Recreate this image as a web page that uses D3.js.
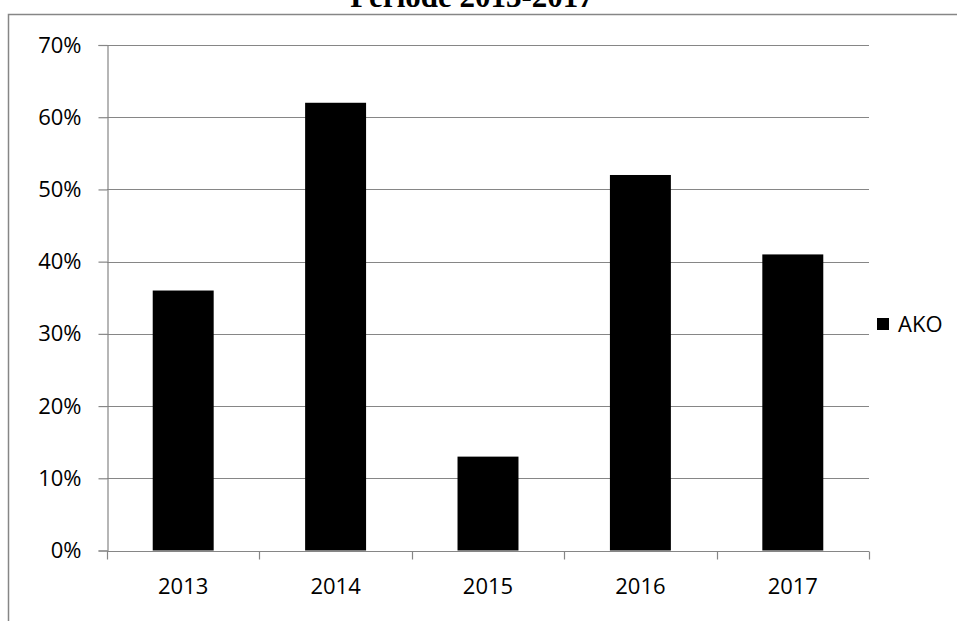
<!DOCTYPE html>
<html>
<head>
<meta charset="utf-8">
<script src="https://cdn.jsdelivr.net/npm/d3@7"></script>
<style>
  html, body { margin: 0; padding: 0; background: #fff; }
  svg { display: block; }
</style>
</head>
<body>
<svg id="chart" width="957" height="621"></svg>
<script>
// Annual AKO ratio, 2013-2017
const years = ["2013", "2014", "2015", "2016", "2017"];
const akoValues = [0.36, 0.62, 0.13, 0.52, 0.41];
const yTicks = [0, 0.1, 0.2, 0.3, 0.4, 0.5, 0.6, 0.7];
const seriesName = "AKO";
const titleText = "Periode 2013-2017";

const svg = d3.select("#chart");
const W = 957, H = 621;
const plot = { left: 107, right: 869, top: 45, bottom: 550.5 };
const grey = "#868686";
const font = "'Open Sans', 'Noto Sans', sans-serif";
const labelSize = 22;

// outer chart frame (top and left edges in view)
svg.append("path")
  .attr("d", `M8.5,${H} V14.5 H${W}`)
  .attr("fill", "none")
  .attr("stroke", grey)
  .attr("stroke-width", 1.5);

// title, sitting above the frame's top edge
svg.append("text")
  .attr("x", 472)
  .attr("y", 7)
  .attr("text-anchor", "middle")
  .attr("font-family", "'Liberation Serif', 'Times New Roman', serif")
  .attr("font-weight", "bold")
  .attr("font-size", 31)
  .text(titleText);

const x = d3.scaleBand()
  .domain(years)
  .range([plot.left, plot.right])
  .paddingInner(0.6)
  .paddingOuter(0.3);

const y = d3.scaleLinear()
  .domain([0, 0.7])
  .range([plot.bottom, plot.top]);

// horizontal gridlines
svg.append("g")
  .selectAll("line")
  .data(yTicks.filter(d => d > 0))
  .join("line")
  .attr("x1", plot.left)
  .attr("x2", plot.right)
  .attr("y1", d => Math.round(y(d)) + 0.5)
  .attr("y2", d => Math.round(y(d)) + 0.5)
  .attr("stroke", grey)
  .attr("stroke-width", 1.2);

// y axis
const yAxis = svg.append("g")
  .attr("transform", `translate(${plot.left + 0.5},0)`)
  .call(d3.axisLeft(y)
    .tickValues(yTicks)
    .tickFormat(d3.format(".0%"))
    .tickSize(9)
    .tickPadding(17));
yAxis.select(".domain").attr("stroke", grey).attr("stroke-width", 1.2);
yAxis.selectAll(".tick line").attr("stroke", grey).attr("stroke-width", 1.2);
yAxis.selectAll(".tick text")
  .attr("font-family", font)
  .attr("font-size", labelSize)
  .attr("fill", "#000");

// bars
svg.append("g")
  .selectAll("rect")
  .data(years.map((yr, i) => ({ yr, v: akoValues[i] })))
  .join("rect")
  .attr("x", d => x(d.yr))
  .attr("width", x.bandwidth())
  .attr("y", d => y(d.v))
  .attr("height", d => y(0) - y(d.v))
  .attr("fill", "#000");

// x axis with ticks at category boundaries
const xBase = Math.round(y(0)) + 0.5;
const bounds = d3.range(years.length + 1).map(i => plot.left + i * x.step());
const xg = svg.append("g");
xg.append("line")
  .attr("x1", plot.left).attr("x2", plot.right)
  .attr("y1", xBase).attr("y2", xBase)
  .attr("stroke", grey).attr("stroke-width", 1.2);
xg.selectAll("line.tick")
  .data(bounds)
  .join("line")
  .attr("class", "tick")
  .attr("x1", d => Math.round(d) + 0.5).attr("x2", d => Math.round(d) + 0.5)
  .attr("y1", xBase).attr("y2", xBase + 8)
  .attr("stroke", grey).attr("stroke-width", 1.2);
xg.selectAll("text")
  .data(years)
  .join("text")
  .attr("x", d => x(d) + x.bandwidth() / 2)
  .attr("y", 594)
  .attr("text-anchor", "middle")
  .attr("font-family", font)
  .attr("font-size", labelSize)
  .attr("fill", "#000")
  .text(d => d);

// legend
const leg = svg.append("g").attr("transform", "translate(877,318)");
leg.append("rect").attr("width", 12).attr("height", 12).attr("fill", "#000");
leg.append("text")
  .attr("x", 21)
  .attr("y", 6)
  .attr("dy", "0.35em")
  .attr("font-family", font)
  .attr("font-size", labelSize)
  .attr("fill", "#000")
  .text(seriesName);
</script>
</body>
</html>
